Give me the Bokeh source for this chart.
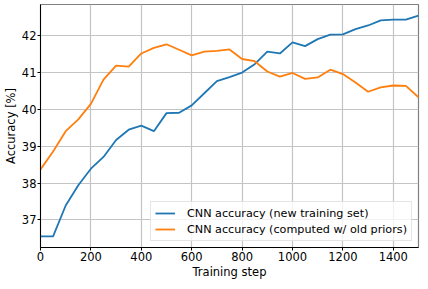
from bokeh.plotting import figure
from bokeh.models import Range1d, FixedTicker, Legend, LegendItem
from bokeh.embed import file_html
from bokeh.resources import INLINE

steps = list(range(0, 1501, 50))
new_training = [36.55, 36.55, 37.39, 37.94, 38.39, 38.71, 39.17, 39.45, 39.56, 39.41,
                39.90, 39.91, 40.11, 40.44, 40.77, 40.88, 41.00, 41.23, 41.57, 41.52,
                41.82, 41.72, 41.91, 42.03, 42.04, 42.18, 42.28, 42.42, 42.44, 42.44,
                42.55]
old_priors = [38.37, 38.86, 39.41, 39.73, 40.15, 40.81, 41.19, 41.16, 41.52, 41.67,
              41.77, 41.62, 41.47, 41.57, 41.59, 41.63, 41.37, 41.31, 41.03, 40.89,
              40.99, 40.83, 40.87, 41.08, 40.96, 40.73, 40.48, 40.60, 40.65, 40.64,
              40.33]
x_ticks = [0, 200, 400, 600, 800, 1000, 1200, 1400]
y_ticks = [37, 38, 39, 40, 41, 42]
labels = ["CNN accuracy (new training set)", "CNN accuracy (computed w/ old priors)"]

FONT = "DejaVu Sans"
p = figure(width=420, height=281, output_backend="svg", toolbar_location=None,
           x_range=Range1d(0, 1500), y_range=Range1d(36.25, 42.85),
           min_border_left=38, min_border_right=2, min_border_top=4, min_border_bottom=30)
p.background_fill_color = "white"
p.border_fill_color = "white"
p.outline_line_color = "#808080"
p.outline_line_width = 1.2

r1 = p.line(steps, new_training, line_color="#1f77b4", line_width=1.8)
r2 = p.line(steps, old_priors, line_color="#ff7f0e", line_width=1.8)

for ax in (p.xaxis[0], p.yaxis[0]):
    ax.axis_line_color = "black"
    ax.axis_line_width = 1
    ax.major_tick_line_color = "black"
    ax.major_tick_out = 3
    ax.major_tick_in = 0
    ax.minor_tick_line_color = None
    ax.major_label_text_font = FONT
    ax.major_label_text_font_size = "11.5px"
    ax.major_label_text_color = "black"
    ax.axis_label_text_font = FONT
    ax.axis_label_text_font_size = "11.5px"
    ax.axis_label_text_font_style = "normal"
    ax.axis_label_text_color = "black"
    ax.major_label_standoff = 1
    ax.axis_label_standoff = 1

p.xaxis[0].ticker = FixedTicker(ticks=x_ticks)
p.yaxis[0].ticker = FixedTicker(ticks=y_ticks)
p.xaxis[0].axis_label = "Training step"
p.yaxis[0].axis_label = "Accuracy [%]"

for g in (p.xgrid[0], p.ygrid[0]):
    g.grid_line_color = "#c4c4c4"
    g.grid_line_width = 1.2

legend = Legend(items=[LegendItem(label=labels[0], renderers=[r1]),
                       LegendItem(label=labels[1], renderers=[r2])],
                location="bottom_right")
legend.label_text_font = FONT
legend.label_text_font_size = "11.2px"
legend.label_text_color = "black"
legend.glyph_width = 20
legend.glyph_height = 14
legend.label_height = 14
legend.spacing = 2
legend.padding = 4
legend.margin = 6
legend.label_standoff = 12
legend.border_line_color = "#cccccc"
legend.border_line_width = 1
legend.background_fill_alpha = 0.8
p.add_layout(legend, "center")

open("out.html", "w").write(file_html(p, INLINE))
